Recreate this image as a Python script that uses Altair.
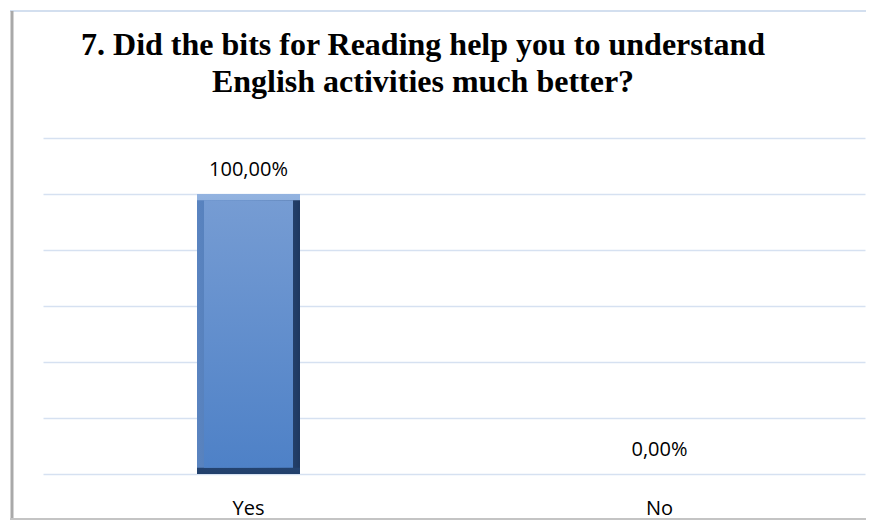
import altair as alt
import pandas as pd

categories = ["Yes", "No"]
values = [1.0, 0.0]
value_labels = ["100,00%", "0,00%"]
grid_ticks = [0, 0.2, 0.4, 0.6, 0.8, 1.0, 1.2]
title_lines = [
    "7. Did the bits for Reading help you to understand",
    "English activities much better?",
]

df = pd.DataFrame({"cat": categories, "val": values, "lab": value_labels})

W, H = 822, 336
BEVEL = 0.022  # bevel thickness in value units (~6px)

x_enc = alt.X(
    "cat:N",
    sort=categories,
    scale=alt.Scale(paddingInner=0, paddingOuter=0),
    axis=alt.Axis(
        title=None, labelAngle=0, domain=False, ticks=False, tickSize=0,
        labelFont="Open Sans", labelFontSize=20, labelColor="#000000",
        labelPadding=40, labelBaseline="alphabetic",
    ),
)
y_scale = alt.Scale(domain=[0, 1.2], nice=False)
y_enc = alt.Y(
    "val:Q",
    scale=y_scale,
    axis=alt.Axis(
        title=None, labels=False, ticks=False, domain=False, grid=True,
        values=grid_ticks, gridColor="#D6E1F1", gridWidth=1.5,
    ),
)

rim_grad = alt.LinearGradient(
    gradient="linear",
    stops=[
        alt.GradientStop(offset=0, color="#93B3E0"),
        alt.GradientStop(offset=0.5, color="#4F7DBA"),
        alt.GradientStop(offset=1, color="#22406C"),
    ],
    x1=0, x2=0, y1=0, y2=1,
)
side_grad = alt.LinearGradient(
    gradient="linear",
    stops=[
        alt.GradientStop(offset=0, color="#5A84C0"),
        alt.GradientStop(offset=0.5, color="#4672AE"),
        alt.GradientStop(offset=1, color="#1E3860"),
    ],
    x1=0, x2=1, y1=0, y2=0,
)
face_grad = alt.LinearGradient(
    gradient="linear",
    stops=[
        alt.GradientStop(offset=0, color="#769CD3"),
        alt.GradientStop(offset=1, color="#4E81C7"),
    ],
    x1=0, x2=0, y1=0, y2=1,
)

base = alt.Chart(df)
bars_df = base.transform_filter("datum.val > 0").transform_calculate(
    top=f"datum.val - {BEVEL}", bot=f"{BEVEL}"
)

outer = base.mark_bar(size=103, color=rim_grad).encode(x=x_enc, y=y_enc)
side = bars_df.mark_bar(size=103, color=side_grad).encode(
    x=x_enc, y=alt.Y("top:Q", scale=y_scale), y2="bot:Q"
)
inner = bars_df.mark_bar(size=89, color=face_grad).encode(
    x=x_enc, y=alt.Y("top:Q", scale=y_scale), y2="bot:Q"
)

labels = base.mark_text(
    dy=-18, baseline="alphabetic", font="Open Sans", fontSize=20, color="#000000"
).encode(x=x_enc, y=y_enc, text="lab:N")

one = pd.DataFrame({"a": [0]})
frame_top = alt.Chart(one).mark_rule(color="#D3DFEF", strokeWidth=2).encode(
    x=alt.value(-33), x2=alt.value(830), y=alt.value(-127)
)
frame_left = alt.Chart(one).mark_rule(color="#A9A9A9", strokeWidth=3).encode(
    x=alt.value(-31), y=alt.value(-127), y2=alt.value(382)
)
frame_bottom = alt.Chart(one).mark_rule(color="#C4C4C4", strokeWidth=2).encode(
    x=alt.value(-33), x2=alt.value(830), y=alt.value(381)
)

title_style = dict(
    font="Liberation Serif", fontSize=32, fontWeight="bold", color="#000000",
    align="center", baseline="alphabetic",
)
title1 = alt.Chart(one).mark_text(**title_style).encode(
    x=alt.value(380), y=alt.value(-83), text=alt.value(title_lines[0])
)
title2 = alt.Chart(one).mark_text(**title_style).encode(
    x=alt.value(380), y=alt.value(-46), text=alt.value(title_lines[1])
)

chart = alt.layer(
    frame_top, frame_left, frame_bottom, outer, side, inner, labels, title1, title2
).properties(
    width=W,
    height=H,
    autosize=alt.AutoSizeParams(type="none"),
    padding={"left": 35, "top": 130, "right": 1, "bottom": 47},
).configure(background="white").configure_view(stroke=None)

chart.save("out.html", embed_options={"renderer": "svg", "actions": False})
